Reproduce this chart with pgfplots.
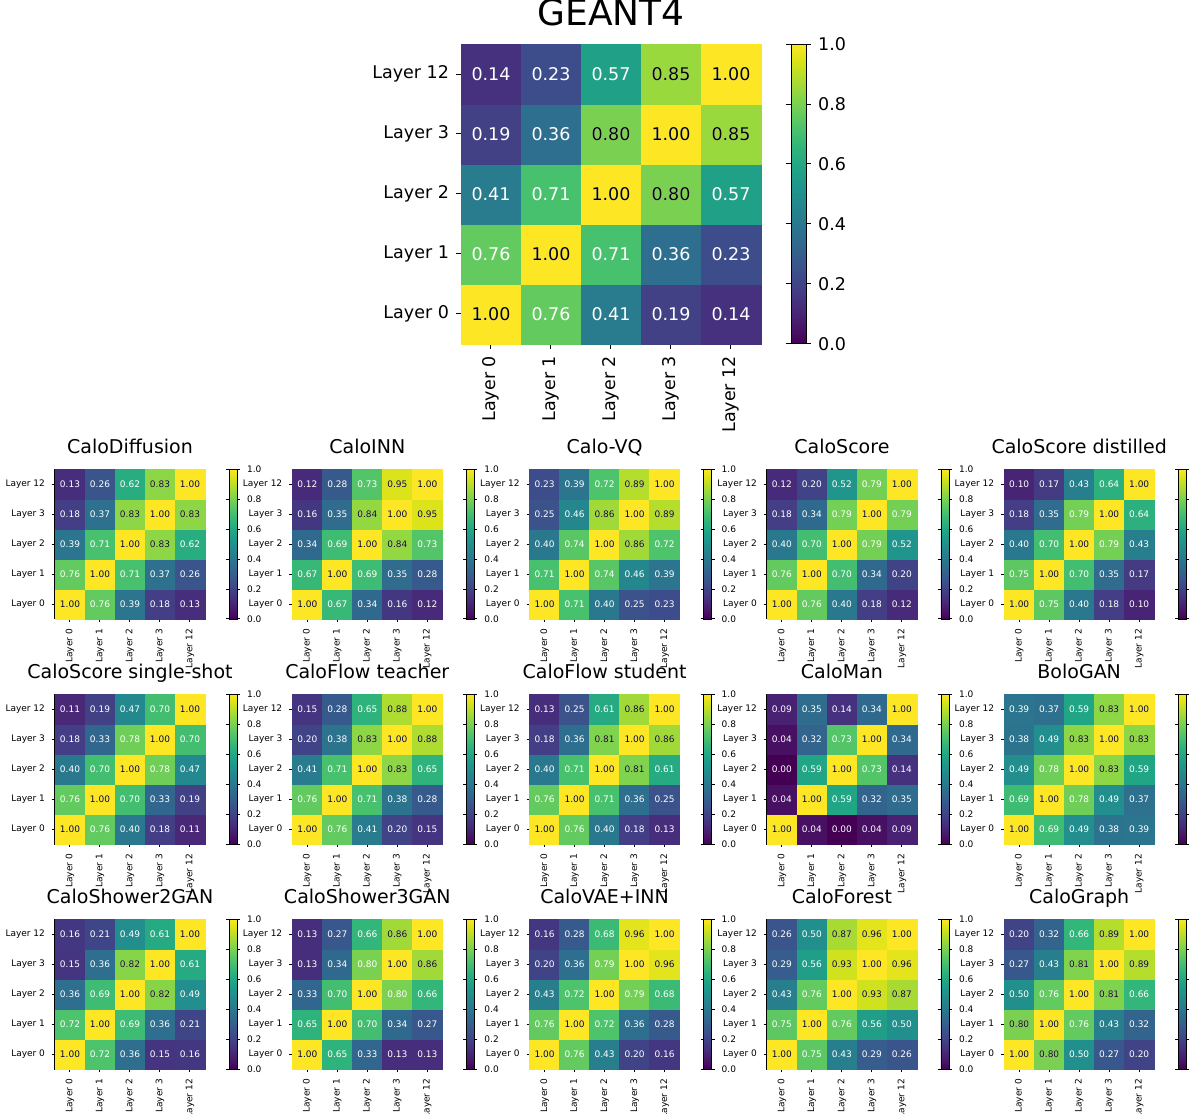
\documentclass[border=0pt]{standalone}
\usepackage{pgfplots}
\pgfplotsset{compat=1.18}
\usepackage{fontspec}
\setmainfont{DejaVu Sans}
\newcommand{\bigf}{\fontsize{8.75}{10}\selectfont}
\newcommand{\smf}{\fontsize{4.5}{5.4}\selectfont}
\pgfplotsset{
  /pgf/number format/assume math mode=true,
  cellsq/.style={scatter, only marks, mark=square*, mark size=#1,
    point meta=explicit,
    scatter/use mapped color={draw=mapped color, fill=mapped color},
    mark options={line width=0.3pt}},
  celltext/.style={draw=none, mark=none, point meta=explicit,
    nodes near coords={\pgfmathprintnumber[fixed,fixed zerofill,precision=2]{\pgfplotspointmeta}},
    every node near coord/.append style={anchor=center, inner sep=0pt, text=#1}},
  hm/.style={
    scale only axis, anchor=north west,
    xmin=-0.5, xmax=4.5, ymin=-0.5, ymax=4.5,
    axis on top,
    colormap/viridis, point meta min=0, point meta max=1,
    xtick={0,1,2,3,4}, ytick={0,1,2,3,4},
    xticklabels={Layer 0,Layer 1,Layer 2,Layer 3,Layer 12},
    yticklabels={Layer 0,Layer 1,Layer 2,Layer 3,Layer 12},
    tick pos=left, tick align=outside,
    xticklabel style={rotate=90, anchor=east},
    yticklabel style={anchor=east},
    axis line style={line width=0.5pt},
    tick style={line width=0.5pt, black},
    title style={at={(0.5,1)}, anchor=base},
    colorbar,
  },
  bigmap/.style={hm, width=150pt, height=150pt,
    tick label style={font=\bigf},
    every node near coord/.append style={font=\bigf},
    major tick length=2.5pt,
    title style={font=\fontsize{18}{20}\selectfont, yshift=3.5pt},
    colorbar style={at={(parent axis.north east)}, anchor=north west, xshift=6.5pt,
      width=7.5pt, ytick={0,0.2,0.4,0.6,0.8,1},
      yticklabel style={font=\bigf, /pgf/number format/.cd, fixed, fixed zerofill, precision=1, assume math mode=true},
      major tick length=2.5pt, tick align=outside, axis line style={line width=0.5pt}},
  },
  smallmap/.style={hm, width=75pt, height=75pt,
    tick label style={font=\smf},
    every node near coord/.append style={font=\smf},
    major tick length=1.5pt,
    title style={font=\fontsize{9.5}{11}\selectfont, yshift=2pt},
    colorbar style={at={(parent axis.north east)}, anchor=north west, xshift=3.5pt,
      width=4pt, ytick={0,0.2,0.4,0.6,0.8,1},
      yticklabel style={font=\smf, /pgf/number format/.cd, fixed, fixed zerofill, precision=1, assume math mode=true},
      major tick length=1.5pt, tick align=outside, axis line style={line width=0.4pt}},
  },
}
% #1 x, #2 y, #3 title, #4 all 25 cells (x,y) [value], #5 cells whose number is black
\newcommand{\smallmapat}[5]{%
  \begin{axis}[smallmap, at={(#1,#2)}, title={#3}]
    \addplot[cellsq=7.5pt] coordinates {#4};
    \addplot[celltext=white] coordinates {#4};
    \addplot[celltext=black] coordinates {#5};
  \end{axis}}
\begin{document}
\begin{tikzpicture}
\path[use as bounding box] (0,0) rectangle (595.5pt,-557pt);
\begin{axis}[bigmap, at={(230.5pt,-22pt)}, title={GEANT4}]
  \addplot[cellsq=15pt] coordinates {
    (0,0) [1.00] (1,0) [0.76] (2,0) [0.41] (3,0) [0.19] (4,0) [0.14]
    (0,1) [0.76] (1,1) [1.00] (2,1) [0.71] (3,1) [0.36] (4,1) [0.23]
    (0,2) [0.41] (1,2) [0.71] (2,2) [1.00] (3,2) [0.80] (4,2) [0.57]
    (0,3) [0.19] (1,3) [0.36] (2,3) [0.80] (3,3) [1.00] (4,3) [0.85]
    (0,4) [0.14] (1,4) [0.23] (2,4) [0.57] (3,4) [0.85] (4,4) [1.00]};
  \addplot[celltext=white] coordinates {
    (0,0) [1.00] (1,0) [0.76] (2,0) [0.41] (3,0) [0.19] (4,0) [0.14]
    (0,1) [0.76] (1,1) [1.00] (2,1) [0.71] (3,1) [0.36] (4,1) [0.23]
    (0,2) [0.41] (1,2) [0.71] (2,2) [1.00] (3,2) [0.80] (4,2) [0.57]
    (0,3) [0.19] (1,3) [0.36] (2,3) [0.80] (3,3) [1.00] (4,3) [0.85]
    (0,4) [0.14] (1,4) [0.23] (2,4) [0.57] (3,4) [0.85] (4,4) [1.00]};
  \addplot[celltext=black] coordinates {
    (0,0) [1.00] (1,1) [1.00] (2,2) [1.00] (3,3) [1.00] (4,4) [1.00]
    (3,2) [0.80] (2,3) [0.80] (4,3) [0.85] (3,4) [0.85]};
\end{axis}
\smallmapat{27.5pt}{-234.5pt}{CaloDiffusion}{
 (0,0) [1.00] (1,0) [0.76] (2,0) [0.39] (3,0) [0.18] (4,0) [0.13]
 (0,1) [0.76] (1,1) [1.00] (2,1) [0.71] (3,1) [0.37] (4,1) [0.26]
 (0,2) [0.39] (1,2) [0.71] (2,2) [1.00] (3,2) [0.83] (4,2) [0.62]
 (0,3) [0.18] (1,3) [0.37] (2,3) [0.83] (3,3) [1.00] (4,3) [0.83]
 (0,4) [0.13] (1,4) [0.26] (2,4) [0.62] (3,4) [0.83] (4,4) [1.00]}{
 (0,0) [1.00] (1,1) [1.00] (2,2) [1.00] (3,3) [1.00] (4,4) [1.00]
 (3,2) [0.83] (2,3) [0.83] (4,3) [0.83] (3,4) [0.83]}
\smallmapat{146.15pt}{-234.5pt}{CaloINN}{
 (0,0) [1.00] (1,0) [0.67] (2,0) [0.34] (3,0) [0.16] (4,0) [0.12]
 (0,1) [0.67] (1,1) [1.00] (2,1) [0.69] (3,1) [0.35] (4,1) [0.28]
 (0,2) [0.34] (1,2) [0.69] (2,2) [1.00] (3,2) [0.84] (4,2) [0.73]
 (0,3) [0.16] (1,3) [0.35] (2,3) [0.84] (3,3) [1.00] (4,3) [0.95]
 (0,4) [0.12] (1,4) [0.28] (2,4) [0.73] (3,4) [0.95] (4,4) [1.00]}{
 (0,0) [1.00] (1,1) [1.00] (2,2) [1.00] (3,3) [1.00] (4,4) [1.00]
 (3,2) [0.84] (2,3) [0.84] (4,3) [0.95] (3,4) [0.95]}
\smallmapat{264.8pt}{-234.5pt}{Calo-VQ}{
 (0,0) [1.00] (1,0) [0.71] (2,0) [0.40] (3,0) [0.25] (4,0) [0.23]
 (0,1) [0.71] (1,1) [1.00] (2,1) [0.74] (3,1) [0.46] (4,1) [0.39]
 (0,2) [0.40] (1,2) [0.74] (2,2) [1.00] (3,2) [0.86] (4,2) [0.72]
 (0,3) [0.25] (1,3) [0.46] (2,3) [0.86] (3,3) [1.00] (4,3) [0.89]
 (0,4) [0.23] (1,4) [0.39] (2,4) [0.72] (3,4) [0.89] (4,4) [1.00]}{
 (0,0) [1.00] (1,1) [1.00] (2,2) [1.00] (3,3) [1.00] (4,4) [1.00]
 (3,2) [0.86] (2,3) [0.86] (4,3) [0.89] (3,4) [0.89]}
\smallmapat{383.45pt}{-234.5pt}{CaloScore}{
 (0,0) [1.00] (1,0) [0.76] (2,0) [0.40] (3,0) [0.18] (4,0) [0.12]
 (0,1) [0.76] (1,1) [1.00] (2,1) [0.70] (3,1) [0.34] (4,1) [0.20]
 (0,2) [0.40] (1,2) [0.70] (2,2) [1.00] (3,2) [0.79] (4,2) [0.52]
 (0,3) [0.18] (1,3) [0.34] (2,3) [0.79] (3,3) [1.00] (4,3) [0.79]
 (0,4) [0.12] (1,4) [0.20] (2,4) [0.52] (3,4) [0.79] (4,4) [1.00]}{
 (0,0) [1.00] (1,1) [1.00] (2,2) [1.00] (3,3) [1.00] (4,4) [1.00]}
\smallmapat{502.1pt}{-234.5pt}{CaloScore distilled}{
 (0,0) [1.00] (1,0) [0.75] (2,0) [0.40] (3,0) [0.18] (4,0) [0.10]
 (0,1) [0.75] (1,1) [1.00] (2,1) [0.70] (3,1) [0.35] (4,1) [0.17]
 (0,2) [0.40] (1,2) [0.70] (2,2) [1.00] (3,2) [0.79] (4,2) [0.43]
 (0,3) [0.18] (1,3) [0.35] (2,3) [0.79] (3,3) [1.00] (4,3) [0.64]
 (0,4) [0.10] (1,4) [0.17] (2,4) [0.43] (3,4) [0.64] (4,4) [1.00]}{
 (0,0) [1.00] (1,1) [1.00] (2,2) [1.00] (3,3) [1.00] (4,4) [1.00]}
\smallmapat{27.5pt}{-347pt}{CaloScore single-shot}{
 (0,0) [1.00] (1,0) [0.76] (2,0) [0.40] (3,0) [0.18] (4,0) [0.11]
 (0,1) [0.76] (1,1) [1.00] (2,1) [0.70] (3,1) [0.33] (4,1) [0.19]
 (0,2) [0.40] (1,2) [0.70] (2,2) [1.00] (3,2) [0.78] (4,2) [0.47]
 (0,3) [0.18] (1,3) [0.33] (2,3) [0.78] (3,3) [1.00] (4,3) [0.70]
 (0,4) [0.11] (1,4) [0.19] (2,4) [0.47] (3,4) [0.70] (4,4) [1.00]}{
 (0,0) [1.00] (1,1) [1.00] (2,2) [1.00] (3,3) [1.00] (4,4) [1.00]}
\smallmapat{146.15pt}{-347pt}{CaloFlow teacher}{
 (0,0) [1.00] (1,0) [0.76] (2,0) [0.41] (3,0) [0.20] (4,0) [0.15]
 (0,1) [0.76] (1,1) [1.00] (2,1) [0.71] (3,1) [0.38] (4,1) [0.28]
 (0,2) [0.41] (1,2) [0.71] (2,2) [1.00] (3,2) [0.83] (4,2) [0.65]
 (0,3) [0.20] (1,3) [0.38] (2,3) [0.83] (3,3) [1.00] (4,3) [0.88]
 (0,4) [0.15] (1,4) [0.28] (2,4) [0.65] (3,4) [0.88] (4,4) [1.00]}{
 (0,0) [1.00] (1,1) [1.00] (2,2) [1.00] (3,3) [1.00] (4,4) [1.00]
 (3,2) [0.83] (2,3) [0.83] (4,3) [0.88] (3,4) [0.88]}
\smallmapat{264.8pt}{-347pt}{CaloFlow student}{
 (0,0) [1.00] (1,0) [0.76] (2,0) [0.40] (3,0) [0.18] (4,0) [0.13]
 (0,1) [0.76] (1,1) [1.00] (2,1) [0.71] (3,1) [0.36] (4,1) [0.25]
 (0,2) [0.40] (1,2) [0.71] (2,2) [1.00] (3,2) [0.81] (4,2) [0.61]
 (0,3) [0.18] (1,3) [0.36] (2,3) [0.81] (3,3) [1.00] (4,3) [0.86]
 (0,4) [0.13] (1,4) [0.25] (2,4) [0.61] (3,4) [0.86] (4,4) [1.00]}{
 (0,0) [1.00] (1,1) [1.00] (2,2) [1.00] (3,3) [1.00] (4,4) [1.00]
 (3,2) [0.81] (2,3) [0.81] (4,3) [0.86] (3,4) [0.86]}
\smallmapat{383.45pt}{-347pt}{CaloMan}{
 (0,0) [1.00] (1,0) [0.04] (2,0) [0.00] (3,0) [0.04] (4,0) [0.09]
 (0,1) [0.04] (1,1) [1.00] (2,1) [0.59] (3,1) [0.32] (4,1) [0.35]
 (0,2) [0.00] (1,2) [0.59] (2,2) [1.00] (3,2) [0.73] (4,2) [0.14]
 (0,3) [0.04] (1,3) [0.32] (2,3) [0.73] (3,3) [1.00] (4,3) [0.34]
 (0,4) [0.09] (1,4) [0.35] (2,4) [0.14] (3,4) [0.34] (4,4) [1.00]}{
 (0,0) [1.00] (1,1) [1.00] (2,2) [1.00] (3,3) [1.00] (4,4) [1.00]}
\smallmapat{502.1pt}{-347pt}{BoloGAN}{
 (0,0) [1.00] (1,0) [0.69] (2,0) [0.49] (3,0) [0.38] (4,0) [0.39]
 (0,1) [0.69] (1,1) [1.00] (2,1) [0.78] (3,1) [0.49] (4,1) [0.37]
 (0,2) [0.49] (1,2) [0.78] (2,2) [1.00] (3,2) [0.83] (4,2) [0.59]
 (0,3) [0.38] (1,3) [0.49] (2,3) [0.83] (3,3) [1.00] (4,3) [0.83]
 (0,4) [0.39] (1,4) [0.37] (2,4) [0.59] (3,4) [0.83] (4,4) [1.00]}{
 (0,0) [1.00] (1,1) [1.00] (2,2) [1.00] (3,3) [1.00] (4,4) [1.00]
 (3,2) [0.83] (2,3) [0.83] (4,3) [0.83] (3,4) [0.83]}
\smallmapat{27.5pt}{-459.5pt}{CaloShower2GAN}{
 (0,0) [1.00] (1,0) [0.72] (2,0) [0.36] (3,0) [0.15] (4,0) [0.16]
 (0,1) [0.72] (1,1) [1.00] (2,1) [0.69] (3,1) [0.36] (4,1) [0.21]
 (0,2) [0.36] (1,2) [0.69] (2,2) [1.00] (3,2) [0.82] (4,2) [0.49]
 (0,3) [0.15] (1,3) [0.36] (2,3) [0.82] (3,3) [1.00] (4,3) [0.61]
 (0,4) [0.16] (1,4) [0.21] (2,4) [0.49] (3,4) [0.61] (4,4) [1.00]}{
 (0,0) [1.00] (1,1) [1.00] (2,2) [1.00] (3,3) [1.00] (4,4) [1.00]
 (3,2) [0.82] (2,3) [0.82]}
\smallmapat{146.15pt}{-459.5pt}{CaloShower3GAN}{
 (0,0) [1.00] (1,0) [0.65] (2,0) [0.33] (3,0) [0.13] (4,0) [0.13]
 (0,1) [0.65] (1,1) [1.00] (2,1) [0.70] (3,1) [0.34] (4,1) [0.27]
 (0,2) [0.33] (1,2) [0.70] (2,2) [1.00] (3,2) [0.80] (4,2) [0.66]
 (0,3) [0.13] (1,3) [0.34] (2,3) [0.80] (3,3) [1.00] (4,3) [0.86]
 (0,4) [0.13] (1,4) [0.27] (2,4) [0.66] (3,4) [0.86] (4,4) [1.00]}{
 (0,0) [1.00] (1,1) [1.00] (2,2) [1.00] (3,3) [1.00] (4,4) [1.00]
 (4,3) [0.86] (3,4) [0.86]}
\smallmapat{264.8pt}{-459.5pt}{CaloVAE+INN}{
 (0,0) [1.00] (1,0) [0.76] (2,0) [0.43] (3,0) [0.20] (4,0) [0.16]
 (0,1) [0.76] (1,1) [1.00] (2,1) [0.72] (3,1) [0.36] (4,1) [0.28]
 (0,2) [0.43] (1,2) [0.72] (2,2) [1.00] (3,2) [0.79] (4,2) [0.68]
 (0,3) [0.20] (1,3) [0.36] (2,3) [0.79] (3,3) [1.00] (4,3) [0.96]
 (0,4) [0.16] (1,4) [0.28] (2,4) [0.68] (3,4) [0.96] (4,4) [1.00]}{
 (0,0) [1.00] (1,1) [1.00] (2,2) [1.00] (3,3) [1.00] (4,4) [1.00]
 (4,3) [0.96] (3,4) [0.96]}
\smallmapat{383.45pt}{-459.5pt}{CaloForest}{
 (0,0) [1.00] (1,0) [0.75] (2,0) [0.43] (3,0) [0.29] (4,0) [0.26]
 (0,1) [0.75] (1,1) [1.00] (2,1) [0.76] (3,1) [0.56] (4,1) [0.50]
 (0,2) [0.43] (1,2) [0.76] (2,2) [1.00] (3,2) [0.93] (4,2) [0.87]
 (0,3) [0.29] (1,3) [0.56] (2,3) [0.93] (3,3) [1.00] (4,3) [0.96]
 (0,4) [0.26] (1,4) [0.50] (2,4) [0.87] (3,4) [0.96] (4,4) [1.00]}{
 (0,0) [1.00] (1,1) [1.00] (2,2) [1.00] (3,3) [1.00] (4,4) [1.00]
 (3,2) [0.93] (2,3) [0.93] (4,2) [0.87] (2,4) [0.87] (4,3) [0.96] (3,4) [0.96]}
\smallmapat{502.1pt}{-459.5pt}{CaloGraph}{
 (0,0) [1.00] (1,0) [0.80] (2,0) [0.50] (3,0) [0.27] (4,0) [0.20]
 (0,1) [0.80] (1,1) [1.00] (2,1) [0.76] (3,1) [0.43] (4,1) [0.32]
 (0,2) [0.50] (1,2) [0.76] (2,2) [1.00] (3,2) [0.81] (4,2) [0.66]
 (0,3) [0.27] (1,3) [0.43] (2,3) [0.81] (3,3) [1.00] (4,3) [0.89]
 (0,4) [0.20] (1,4) [0.32] (2,4) [0.66] (3,4) [0.89] (4,4) [1.00]}{
 (0,0) [1.00] (1,1) [1.00] (2,2) [1.00] (3,3) [1.00] (4,4) [1.00]
 (1,0) [0.80] (0,1) [0.80] (3,2) [0.81] (2,3) [0.81] (4,3) [0.89] (3,4) [0.89]}
\end{tikzpicture}
\end{document}
